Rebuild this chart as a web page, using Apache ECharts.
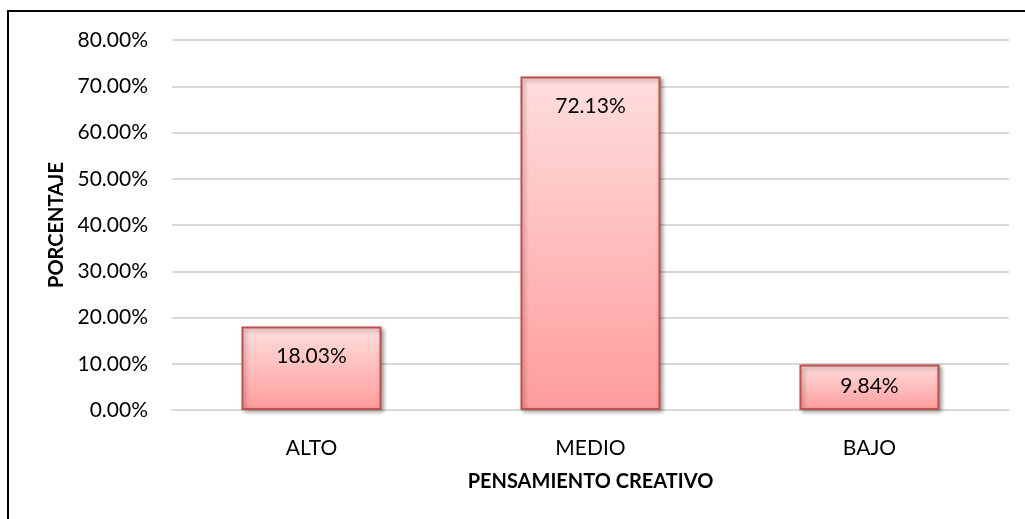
<!DOCTYPE html>
<html>
<head>
  <meta charset="UTF-8">
  <title>Pensamiento creativo</title>
  <style>
    html, body { margin: 0; padding: 0; background: #fff; }
    #chart { width: 1025px; height: 519px; }
  </style>
  <script src="https://cdn.jsdelivr.net/npm/echarts@6/dist/echarts.min.js"></script>
</head>
<body>
  <div id="chart"></div>
  <script>
    var categories = ['ALTO', 'MEDIO', 'BAJO'];
    var percentages = [18.03, 72.13, 9.84];
    var labelGaps = [19, 19, 11]; // Excel squeezes the label in the short bar

    var FONT = 'Lato, "Open Sans", sans-serif';
    var chart = echarts.init(document.getElementById('chart'));

    var barFill = new echarts.graphic.LinearGradient(0, 0, 0, 1, [
      { offset: 0, color: '#ffdede' },
      { offset: 1, color: '#ff9c9c' }
    ]);

    var option = {
      animation: false,
      grid: { left: 172, right: 16, top: 40, bottom: 109 },
      graphic: [{
        type: 'rect',
        shape: { x: 8, y: 11, width: 1040, height: 540 },
        style: { fill: 'none', stroke: '#000', lineWidth: 2 },
        silent: true
      }],
      xAxis: {
        type: 'category',
        data: categories,
        name: 'PENSAMIENTO CREATIVO',
        nameLocation: 'middle',
        nameGap: 62,
        nameTextStyle: { fontFamily: FONT, fontWeight: 'bold', fontSize: 20, color: '#000' },
        axisTick: { show: false },
        axisLine: { lineStyle: { color: '#d9d9d9', width: 2 } },
        axisLabel: { fontFamily: FONT, fontSize: 21, color: '#000', margin: 28 }
      },
      yAxis: {
        type: 'value',
        min: 0,
        max: 80,
        interval: 10,
        name: 'PORCENTAJE',
        nameLocation: 'middle',
        nameGap: 99,
        nameTextStyle: { fontFamily: FONT, fontWeight: 'bold', fontSize: 20, color: '#000' },
        axisLine: { show: false },
        axisTick: { show: false },
        splitLine: { lineStyle: { color: '#d9d9d9', width: 2 } },
        axisLabel: {
          fontFamily: FONT, fontSize: 21, color: '#000', margin: 24,
          formatter: function (v) { return v.toFixed(2) + '%'; }
        }
      },
      series: [{
        type: 'bar',
        barWidth: 140,
        data: percentages.map(function (v, i) {
          return { value: v, label: { distance: labelGaps[i] } };
        }),
        itemStyle: {
          color: barFill,
          borderColor: '#c0504d',
          borderWidth: 2,
          shadowColor: 'rgba(0,0,0,0.35)',
          shadowBlur: 4,
          shadowOffsetX: 2,
          shadowOffsetY: 2
        },
        label: {
          show: true,
          position: 'insideTop',
          fontFamily: FONT,
          fontSize: 21,
          color: '#000',
          formatter: function (p) { return p.value.toFixed(2) + '%'; }
        }
      }]
    };
    chart.setOption(option);
  </script>
</body>
</html>
